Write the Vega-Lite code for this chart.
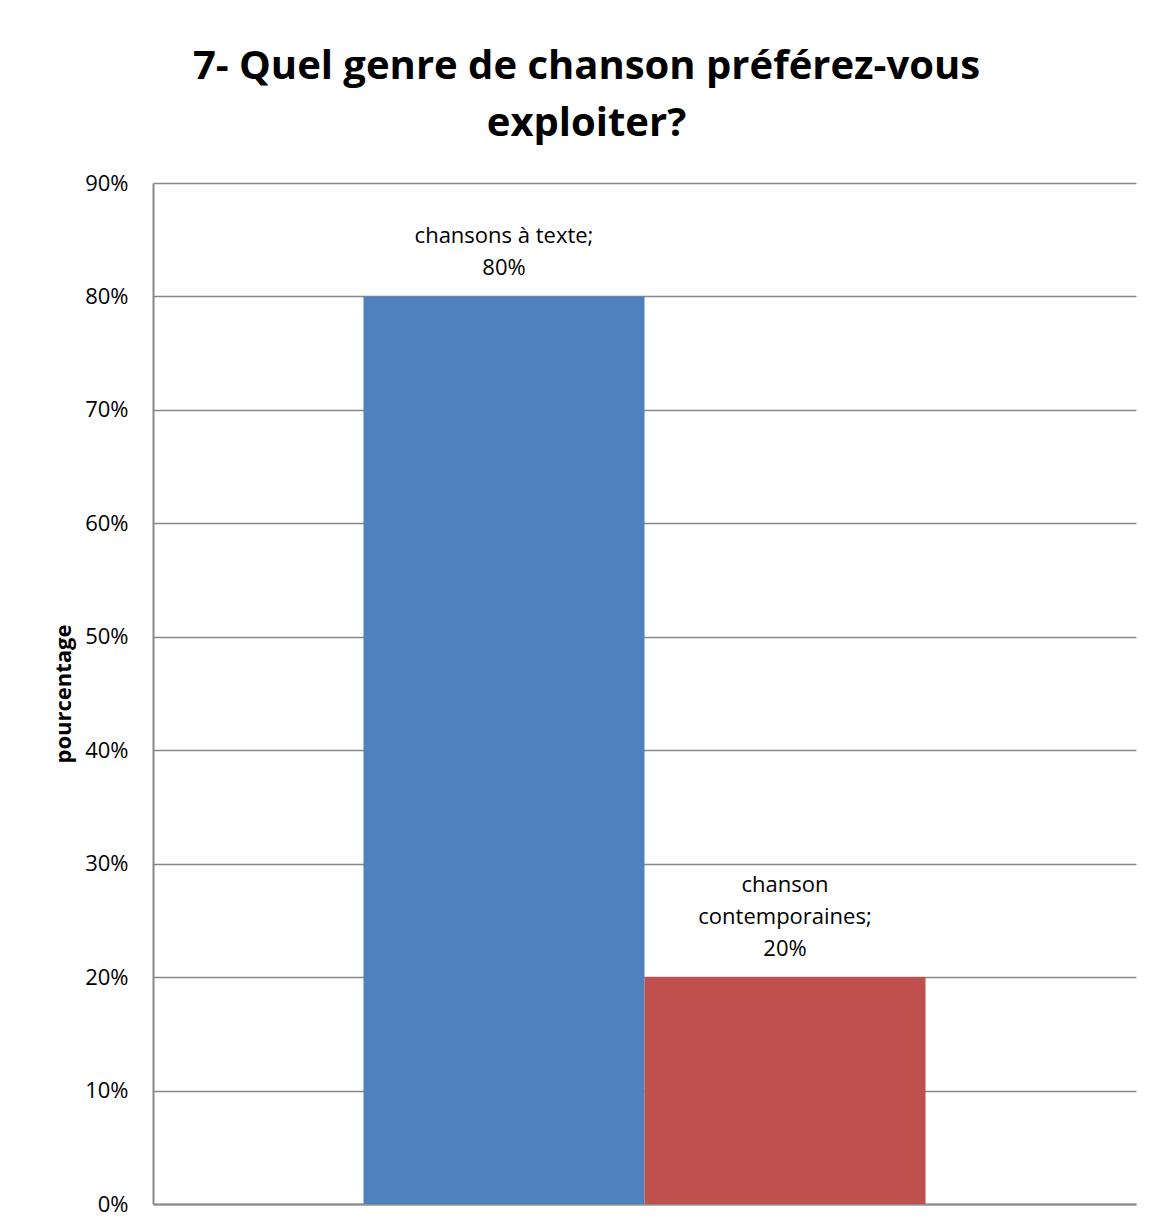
{
  "$schema": "https://vega.github.io/schema/vega-lite/v6.json",
  "width": 983,
  "height": 1021,
  "autosize": "none",
  "padding": {"left": 153, "top": 183, "right": 20, "bottom": 22},
  "background": "white",
  "title": {
    "text": ["7- Quel genre de chanson préférez-vous", "exploiter?"],
    "font": "Open Sans",
    "fontSize": 40,
    "fontWeight": "bold",
    "color": "black",
    "lineHeight": 57,
    "anchor": "middle",
    "dx": -58,
    "offset": 28
  },
  "datasets": {
    "bars": [
      {"genre": "chansons à texte", "pct": 0.8},
      {"genre": "chanson contemporaines", "pct": 0.2}
    ],
    "labels": [
      {"genre": "chansons à texte", "pct": 0.8, "text": "80%", "lineFromBottom": 0},
      {"genre": "chansons à texte", "pct": 0.8, "text": "chansons à texte;", "lineFromBottom": 1},
      {"genre": "chanson contemporaines", "pct": 0.2, "text": "20%", "lineFromBottom": 0},
      {"genre": "chanson contemporaines", "pct": 0.2, "text": "contemporaines;", "lineFromBottom": 1},
      {"genre": "chanson contemporaines", "pct": 0.2, "text": "chanson", "lineFromBottom": 2}
    ]
  },
  "encoding": {
    "x": {
      "field": "genre",
      "type": "nominal",
      "sort": ["chansons à texte", "chanson contemporaines"],
      "scale": {"paddingInner": 0, "paddingOuter": 0.749},
      "axis": {"title": null, "labels": false, "ticks": false, "domainColor": "#888888", "domainWidth": 2}
    },
    "y": {
      "field": "pct",
      "type": "quantitative",
      "scale": {"domain": [0, 0.9], "nice": false},
      "axis": {
        "title": "pourcentage",
        "titleFont": "Open Sans",
        "titleFontSize": 22,
        "titleFontWeight": "bold",
        "titleColor": "black",
        "titlePadding": 9,
        "format": ".0%",
        "values": [0, 0.1, 0.2, 0.3, 0.4, 0.5, 0.6, 0.7, 0.8, 0.9],
        "labelFont": "Open Sans",
        "labelFontSize": 22,
        "labelColor": "black",
        "labelPadding": 25,
        "ticks": false,
        "domainColor": "#888888",
        "domainWidth": 2,
        "gridColor": "#888888",
        "gridWidth": 1.5
      }
    }
  },
  "layer": [
    {
      "data": {"name": "bars"},
      "mark": {"type": "bar"},
      "encoding": {
        "color": {
          "field": "genre",
          "type": "nominal",
          "scale": {"domain": ["chansons à texte", "chanson contemporaines"], "range": ["#4F81BD", "#C0504D"]},
          "legend": null
        }
      }
    },
    {
      "data": {"name": "labels"},
      "transform": [{"filter": "datum.lineFromBottom == 0"}],
      "mark": {"type": "text", "font": "Open Sans", "fontSize": 22, "color": "black", "baseline": "bottom", "align": "center", "dy": -16},
      "encoding": {"text": {"field": "text"}}
    },
    {
      "data": {"name": "labels"},
      "transform": [{"filter": "datum.lineFromBottom == 1"}],
      "mark": {"type": "text", "font": "Open Sans", "fontSize": 22, "color": "black", "baseline": "bottom", "align": "center", "dy": -48},
      "encoding": {"text": {"field": "text"}}
    },
    {
      "data": {"name": "labels"},
      "transform": [{"filter": "datum.lineFromBottom == 2"}],
      "mark": {"type": "text", "font": "Open Sans", "fontSize": 22, "color": "black", "baseline": "bottom", "align": "center", "dy": -80},
      "encoding": {"text": {"field": "text"}}
    }
  ],
  "config": {"view": {"stroke": null}}
}
